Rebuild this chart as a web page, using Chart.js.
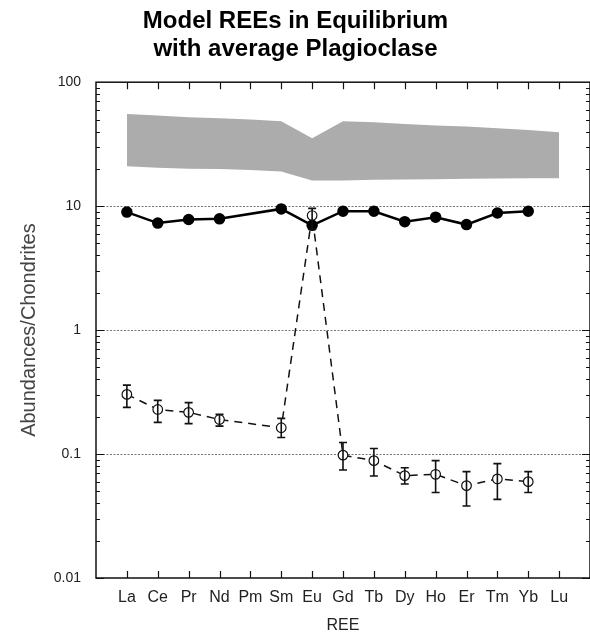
<!DOCTYPE html>
<html>
<head>
<meta charset="utf-8">
<script src="https://cdn.jsdelivr.net/npm/chart.js@4/dist/chart.umd.min.js"></script>
<style>
  html, body { margin: 0; padding: 0; background: #fff; }
</style>
</head>
<body>
<canvas id="grafica" width="590" height="634"></canvas>
<script>
// datos
const elementos = ['La', 'Ce', 'Pr', 'Nd', 'Pm', 'Sm', 'Eu', 'Gd', 'Tb', 'Dy', 'Ho', 'Er', 'Tm', 'Yb', 'Lu'];
const bandaSup = [55.5, 53.8, 52.2, 51.3, 50.0, 48.5, 35.3, 48.5, 47.6, 46.1, 44.7, 43.9, 42.6, 41.2, 39.5];
const bandaInf = [21.0, 20.4, 20.0, 19.9, 19.6, 19.0, 16.1, 16.1, 16.3, 16.4, 16.5, 16.6, 16.7, 16.8, 16.8];
const plagioclasa = [8.95, 7.3, 7.8, 7.9, null, 9.5, 7.0, 9.1, 9.1, 7.5, 8.15, 7.1, 8.8, 9.1, null];
const modelo = [0.303, 0.229, 0.217, 0.19, null, 0.163, 8.4, 0.098, 0.0885, 0.067, 0.0686, 0.0556, 0.063, 0.0599, null];
const modeloMax = [0.36, 0.271, 0.26, 0.209, null, 0.194, 9.6, 0.124, 0.111, 0.0776, 0.0885, 0.0721, 0.0837, 0.0721, null];
const modeloMin = [0.238, 0.18, 0.176, 0.168, null, 0.136, 6.5, 0.0743, 0.0665, 0.0573, 0.0489, 0.0381, 0.0431, 0.0489, null];
const yTicks = [0.01, 0.1, 1, 10, 100];
const yLineas = [0.1, 1, 10];

const fuente = 'Liberation Sans, Arial, Helvetica, sans-serif';

// pasar a puntos {x, y}
function puntos(valores) {
  return valores.map((v, i) => ({ x: i, y: v }));
}

// marco, marcas interiores, líneas punteadas y barras de error
const marco = {
  id: 'marco',
  beforeDatasetsDraw(chart) {
    const { ctx, chartArea: a, scales: { y } } = chart;
    ctx.save();
    ctx.strokeStyle = '#777';
    ctx.lineWidth = 1;
    ctx.setLineDash([2, 1.5]);
    yLineas.forEach(v => {
      const py = Math.round(y.getPixelForValue(v)) + 0.5;
      ctx.beginPath();
      ctx.moveTo(a.left, py);
      ctx.lineTo(a.right, py);
      ctx.stroke();
    });
    ctx.restore();
  },
  afterDatasetsDraw(chart) {
    const { ctx, chartArea: a, scales: { x, y } } = chart;
    ctx.save();
    ctx.strokeStyle = '#111';

    // barras de error
    ctx.lineWidth = 1.6;
    modelo.forEach((v, i) => {
      if (v === null) return;
      const px = x.getPixelForValue(i);
      const top = y.getPixelForValue(modeloMax[i]);
      const bot = y.getPixelForValue(modeloMin[i]);
      ctx.beginPath();
      ctx.moveTo(px, top); ctx.lineTo(px, bot);
      ctx.moveTo(px - 4, top); ctx.lineTo(px + 4, top);
      ctx.moveTo(px - 4, bot); ctx.lineTo(px + 4, bot);
      ctx.stroke();
    });

    // marco
    ctx.lineWidth = 1.5;
    ctx.strokeRect(a.left, a.top, a.right - a.left, a.bottom - a.top);

    // marcas eje x
    ctx.lineWidth = 1.2;
    elementos.forEach((e, i) => {
      const px = Math.round(x.getPixelForValue(i)) + 0.5;
      ctx.beginPath();
      ctx.moveTo(px, a.bottom); ctx.lineTo(px, a.bottom - 7);
      ctx.moveTo(px, a.top); ctx.lineTo(px, a.top + 7);
      ctx.stroke();
    });

    // marcas eje y (mayores y menores)
    for (let d = -2; d < 2; d++) {
      for (let m = 1; m <= 9; m++) {
        const py = Math.round(y.getPixelForValue(m * Math.pow(10, d))) + 0.5;
        const len = m === 1 ? 8 : 4;
        ctx.beginPath();
        ctx.moveTo(a.left, py); ctx.lineTo(a.left + len, py);
        ctx.moveTo(a.right, py); ctx.lineTo(a.right - len, py);
        ctx.stroke();
      }
    }
    ctx.restore();
  }
};

const ctx = document.getElementById('grafica').getContext('2d');
const myChart = new Chart(ctx, {
  type: 'line',
  data: {
    datasets: [
      {
        label: 'banda sup',
        data: puntos(bandaSup),
        borderWidth: 0,
        pointRadius: 0,
        backgroundColor: '#acacac',
        fill: '+1',
        tension: 0
      },
      {
        label: 'banda inf',
        data: puntos(bandaInf),
        borderWidth: 0,
        pointRadius: 0,
        fill: false,
        tension: 0
      },
      {
        label: 'Plagioclasa',
        data: puntos(plagioclasa),
        borderColor: '#000',
        borderWidth: 2.5,
        pointRadius: 4.5,
        pointBackgroundColor: '#000',
        pointBorderColor: '#000',
        spanGaps: true,
        fill: false,
        tension: 0
      },
      {
        label: 'Modelo',
        data: puntos(modelo),
        borderColor: '#111',
        borderWidth: 1.5,
        borderDash: [8, 6],
        pointRadius: 4.8,
        pointBackgroundColor: '#fff',
        pointBorderColor: '#111',
        pointBorderWidth: 1.2,
        spanGaps: true,
        fill: false,
        tension: 0
      }
    ]
  },
  options: {
    responsive: false,
    animation: false,
    layout: { autoPadding: false, padding: { left: 0, right: -1, top: 0, bottom: 0 } },
    plugins: {
      legend: { display: false },
      tooltip: { enabled: false },
      title: {
        display: true,
        text: ['Model REEs in Equilibrium', 'with average Plagioclase'],
        color: '#000',
        font: { family: fuente, size: 24, weight: 'bold', lineHeight: 1.15 },
        padding: { top: 8, bottom: 19 }
      }
    },
    scales: {
      x: {
        type: 'linear',
        min: -1,
        max: 15,
        afterBuildTicks: s => { s.ticks = elementos.map((e, i) => ({ value: i })); },
        afterFit: s => { s.height = 56; s.paddingLeft = 0; s.paddingRight = 0; },
        grid: { display: false, drawTicks: false },
        border: { display: false },
        ticks: {
          autoSkip: false,
          maxRotation: 0,
          padding: 10,
          color: '#222',
          font: { family: fuente, size: 16 },
          callback: v => elementos[v] ?? ''
        },
        title: {
          display: true,
          text: 'REE',
          color: '#222',
          font: { family: fuente, size: 16, lineHeight: 1.0 },
          padding: { top: 0, bottom: 0 }
        }
      },
      y: {
        type: 'logarithmic',
        min: 0.01,
        max: 100,
        afterBuildTicks: s => { s.ticks = yTicks.map(v => ({ value: v })); },
        afterFit: s => { s.width = 96; },
        grid: { display: false, drawTicks: false },
        border: { display: false },
        ticks: {
          padding: 15,
          color: '#222',
          font: { family: fuente, size: 14 },
          callback: v => String(v)
        },
        title: {
          display: true,
          text: 'Abundances/Chondrites',
          color: '#444',
          font: { family: fuente, size: 20 },
          padding: { top: 17, bottom: 0 }
        }
      }
    }
  },
  plugins: [marco]
});
</script>
</body>
</html>
